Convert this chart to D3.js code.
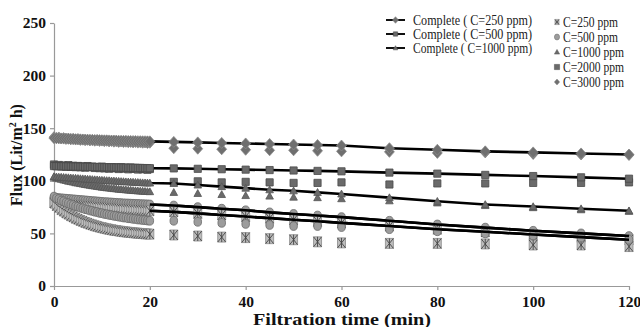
<!DOCTYPE html>
<html><head><meta charset="utf-8">
<script src="https://cdn.jsdelivr.net/npm/d3@7"></script>
<style>body{margin:0;background:#fff}svg{display:block}</style>
</head><body><svg id="c" width="640" height="327"></svg>
<script>
// ---- data ----
const timesDense = [0,0.5,1,1.5,2,2.5,3,3.5,4,4.5,5,5.5,6,6.5,7,7.5,8,8.5,9,9.5,10,10.5,11,11.5,12,12.5,13,13.5,14,14.5,15,15.5,16,16.5,17,17.5,18,18.5,19,19.5,20];
const timesLate = [25,30,35,40,45,50,55,60,70,80,90,100,110,120];
const xTicks = [0,20,40,60,80,100,120];
const yTicks = [0,50,100,150,200,250];

// model lines ("Complete")
const complete250 = [140.5,140.4,140.3,140.2,140.1,140.0,139.9,139.8,139.7,139.6,139.5,139.4,139.3,139.2,139.1,139.0,138.9,138.8,138.8,138.7,138.6,138.5,138.5,138.4,138.3,138.3,138.2,138.1,138.1,138.0,138.0,137.9,137.9,137.8,137.8,137.7,137.7,137.6,137.6,137.5,137.5,
  137,136.5,136,135.5,135,134.5,134,133.5,131,129.5,128,127,126,125];
const complete500 = [114.0,113.9,113.9,113.8,113.8,113.7,113.7,113.6,113.6,113.5,113.5,113.4,113.4,113.3,113.3,113.2,113.2,113.1,113.1,113.0,113.0,112.9,112.9,112.8,112.8,112.7,112.7,112.6,112.6,112.5,112.5,112.4,112.4,112.3,112.3,112.2,112.2,112.1,112.1,112.0,112.0,
  111.8,111.4,111,110.6,110.2,109.8,109.4,109,107.8,106.8,105.6,104.5,103.3,102];
const complete1000 = [104.0,103.8,103.6,103.5,103.3,103.1,103.0,102.8,102.6,102.5,102.3,102.1,102.0,101.8,101.6,101.5,101.3,101.1,101.0,100.8,100.6,100.5,100.3,100.2,100.0,99.9,99.7,99.6,99.4,99.3,99.1,99.0,98.9,98.7,98.6,98.5,98.3,98.2,98.1,98.0,97.9,
  97.5,96,94.5,93,91.5,90.5,89,87.5,84,80.5,77.5,75.5,73.5,71.5];
const modelLineD = [84.0,83.8,83.6,83.4,83.2,83.0,82.8,82.6,82.4,82.2,82.0,81.8,81.6,81.4,81.2,81.0,80.8,80.6,80.4,80.2,80.0,79.8,79.7,79.5,79.4,79.2,79.1,78.9,78.8,78.6,78.5,78.4,78.3,78.2,78.1,78.0,77.9,77.8,77.7,77.6,77.5,
  76.5,75,73.5,72,70,68.5,67,65.5,62,58.5,55.5,52.5,50,47.5];
const modelLineE = [79.0,78.8,78.6,78.4,78.2,78.0,77.8,77.6,77.4,77.2,77.0,76.8,76.6,76.4,76.2,76.0,75.8,75.6,75.4,75.2,75.0,74.8,74.6,74.4,74.2,74.0,73.8,73.6,73.4,73.2,73.0,72.9,72.7,72.6,72.4,72.3,72.1,72.0,71.8,71.7,71.5,
  70.5,69,67.5,66,64.5,63,61.5,60,57,54,51.5,49,46.5,44];

// experimental points
const exp250 = [79.0,76.5,74.8,72.6,71.2,69.5,68.3,66.8,65.7,64.4,63.5,62.3,61.5,60.4,59.7,58.8,58.1,57.3,56.7,56.0,55.5,54.9,54.4,53.9,53.5,53.0,52.7,52.3,52.0,51.6,51.4,51.1,50.9,50.6,50.4,50.2,50.0,49.8,49.6,49.5,49.3,
  48.5,47.5,46.5,46,45,44,42,41,40.5,40.5,40,39,39,37.5];
const exp500 = [85.0,83.5,82.6,81.2,80.5,79.3,78.6,77.5,76.9,75.8,75.3,74.4,73.9,73.0,72.6,71.8,71.4,70.6,70.3,69.5,69.2,68.5,68.2,67.6,67.3,66.7,66.5,65.9,65.7,65.1,65.0,64.4,64.3,63.8,63.7,63.2,63.1,62.7,62.6,62.2,62.0,
  62,61,60,59,58,57,57,56,54,52,50,48,46,44];
const exp1000 = [103.5,102.6,102.0,101.5,100.8,100.4,99.7,99.3,98.8,98.2,97.9,97.4,97.0,96.5,96.2,95.8,95.4,95.1,94.7,94.4,94.0,93.8,93.4,93.2,92.9,92.6,92.4,92.1,91.9,91.7,91.5,91.2,91.1,90.8,90.7,90.5,90.3,90.2,90.0,89.9,89.7,
  89,88,87,86,85.5,84.5,84,83,81,79,76.5,74.5,72.5,71];
const exp2000 = [115.5,114.2,115.0,113.8,114.6,113.5,114.9,113.2,114.3,113.0,114.1,112.8,113.6,112.5,114.0,112.9,113.4,112.2,113.1,112.0,113.5,111.8,112.7,111.5,113.0,111.9,112.4,111.2,112.8,111.6,112.1,110.9,112.5,111.3,111.8,110.7,112.0,111.0,111.5,110.5,111.2,
  99,99.5,98.5,99,98.5,98,98,98.5,96.5,97.5,97.5,98,98,98.5];
const exp3000 = [141.5,140.8,141.2,140.3,140.6,139.9,140.2,139.5,139.8,139.2,139.6,138.9,139.1,138.6,139.0,138.4,138.7,138.1,138.5,137.9,138.2,137.7,138.0,137.4,137.8,137.2,137.5,137.0,137.3,136.8,137.1,136.7,136.9,136.5,136.8,136.3,136.6,136.2,136.4,136.0,136.2,
  131,130.5,130,129.5,129,129,128.5,128,127.5,126.5,127,125.5,125,124.5];

const lineNames = ["Complete ( C=250 ppm)","Complete ( C=500 ppm)","Complete ( C=1000 ppm)"];
const expNames = ["C=250 ppm","C=500 ppm","C=1000 ppm","C=2000 ppm","C=3000 ppm"];

// ---- drawing ----
const times = timesDense.concat(timesLate);
const pts = vals => vals.map((v,i)=>({t:times[i],v})).filter(d=>d.t!==undefined && d.v!==undefined);

const svg = d3.select("#c");
const x = d3.scaleLinear().domain([0,120]).range([54,629]);
const y = d3.scaleLinear().domain([0,250]).range([286,23]);
const serif = '"Liberation Serif"';

const shapes = {
  diamond: s => `M0,${-s}L${s*0.9},0L0,${s}L${-s*0.9},0Z`,
  square: s => `M${-s},${-s}H${s}V${s}H${-s}Z`,
  triangle: s => `M0,${-s}L${s},${s*0.8}L${-s},${s*0.8}Z`,
  circle: s => `M${-s},0A${s},${s*1.15} 0 1,0 ${s},0A${s},${s*1.15} 0 1,0 ${-s},0Z`,
  xbox: s => `M${-s*0.8},${-s}H${s*0.8}V${s}H${-s*0.8}Z`
};
const styles = {
  diamond: {fill:"#6f6f6f", stroke:"#8a8a8a", size:5.5},
  square: {fill:"#6a6a6a", stroke:"#4a4a4a", size:3.6},
  triangle: {fill:"#6a6a6a", stroke:"#555", size:3.8},
  circle: {fill:"#9c9c9c", stroke:"#6a6a6a", size:3.8},
  xbox: {fill:"#bdbdbd", stroke:"#8a8a8a", size:5}
};
function drawMarkers(g, data, kind, scale=1){
  const st = styles[kind], s = st.size*scale;
  const m = g.selectAll(null).data(data).enter().append("g")
    .attr("transform", d=>`translate(${x(d.t)},${y(d.v)})`);
  m.append("path").attr("d", shapes[kind](s)).attr("fill", st.fill).attr("stroke", st.stroke).attr("stroke-width",0.8);
  if(kind==="xbox"){
    m.append("path").attr("d",`M${-s*0.8},${-s}L${s*0.8},${s}M${s*0.8},${-s}L${-s*0.8},${s}M0,${-s}V${s}`)
      .attr("stroke","#444").attr("stroke-width",0.9).attr("fill","none");
  }
}

// axes
const gy = svg.append("g").attr("transform","translate(54,0)")
  .call(d3.axisLeft(y).tickValues(yTicks).tickSize(4).tickSizeOuter(0).tickPadding(4));
const gx = svg.append("g").attr("transform","translate(0,286)")
  .call(d3.axisBottom(x).tickValues(xTicks).tickSize(4).tickSizeOuter(0).tickPadding(6));
[gx,gy].forEach(g=>{
  g.attr("font-family",null).attr("font-size",15);
  g.select(".domain").attr("stroke","#999").attr("stroke-width",1.2);
  g.selectAll(".tick line").attr("stroke","#999").attr("stroke-width",1.2);
  g.selectAll(".tick text").style("font-family",serif).attr("font-weight","bold").attr("font-size",15.5).attr("fill","#111");
});

const plot = svg.append("g");
const lineGen = d3.line().x(d=>x(d.t)).y(d=>y(d.v));

// lower model lines under markers
[modelLineD, modelLineE].forEach(vals=>{
  plot.append("path").datum(pts(vals)).attr("d",lineGen).attr("fill","none").attr("stroke","#000").attr("stroke-width",2.6);
});
drawMarkers(plot, pts(modelLineD), "circle");
drawMarkers(plot, pts(modelLineE), "xbox");

// experimental scatter
drawMarkers(plot, pts(exp250), "xbox");
drawMarkers(plot, pts(exp500), "circle");
drawMarkers(plot, pts(exp1000), "triangle");
drawMarkers(plot, pts(exp2000), "square");
drawMarkers(plot, pts(exp3000), "diamond");

// redraw lower lines over the later (sparse) region so they stay visible
[modelLineD, modelLineE].forEach(vals=>{
  plot.append("path").datum(pts(vals).filter(d=>d.t>=20)).attr("d",lineGen).attr("fill","none").attr("stroke","#000").attr("stroke-width",2.6);
});

// Complete lines with markers
[[complete1000,"triangle"],[complete500,"square"],[complete250,"diamond"]].forEach(([vals,kind])=>{
  plot.append("path").datum(pts(vals)).attr("d",lineGen).attr("fill","none").attr("stroke","#000").attr("stroke-width",2.6);
  drawMarkers(plot, pts(vals), kind);
});

// axis titles
svg.append("text").attr("x",342).attr("y",325).attr("text-anchor","middle")
  .style("font-family",serif).attr("font-weight","bold").attr("font-size",16).attr("fill","#111")
  .attr("textLength",178).attr("lengthAdjust","spacingAndGlyphs")
  .text("Filtration time (min)");
const yt = svg.append("text").attr("transform","translate(22,155) rotate(-90)").attr("text-anchor","middle")
  .style("font-family",serif).attr("font-weight","bold").attr("font-size",16).attr("fill","#111");
yt.append("tspan").text("Flux (Lit/m");
yt.append("tspan").attr("font-size",10).attr("dy",-6).text("2");
yt.append("tspan").attr("dy",6).text(" h)");

// legend: lines
const lk = ["diamond","square","triangle"];
lineNames.forEach((name,i)=>{
  const cy = 20 + i*14;
  const g = svg.append("g");
  g.append("line").attr("x1",386).attr("x2",405).attr("y1",cy).attr("y2",cy).attr("stroke","#111").attr("stroke-width",2);
  const st = styles[lk[i]];
  g.append("path").attr("transform",`translate(395.5,${cy})`).attr("d",shapes[lk[i]](st.size*0.6)).attr("fill",st.fill).attr("stroke",st.stroke).attr("stroke-width",0.6);
  g.append("text").attr("x",413).attr("y",cy+4.5).style("font-family",serif).attr("font-size",14).attr("fill","#222")
    .attr("textLength",119).attr("lengthAdjust","spacingAndGlyphs").text(name);
});
// legend: experimental
const ek = ["xbox","circle","triangle","square","diamond"];
expNames.forEach((name,i)=>{
  const cy = 22 + i*15;
  const st = styles[ek[i]];
  const g = svg.append("g").attr("transform",`translate(557,${cy})`);
  const s = ek[i]==="diamond"?3:2.6;
  g.append("path").attr("d",shapes[ek[i]](s)).attr("fill",ek[i]==="xbox"?"#aaa":st.fill).attr("stroke",st.stroke).attr("stroke-width",0.5);
  if(ek[i]==="xbox") g.append("path").attr("d",`M${-s*0.8},${-s}L${s*0.8},${s}M${s*0.8},${-s}L${-s*0.8},${s}`).attr("stroke","#333").attr("stroke-width",0.7);
  svg.append("text").attr("x",563).attr("y",cy+4.5).style("font-family",serif).attr("font-size",14).attr("fill","#222")
    .attr("textLength", name.length>9?61:55).attr("lengthAdjust","spacingAndGlyphs").text(name);
});
</script></body></html>
